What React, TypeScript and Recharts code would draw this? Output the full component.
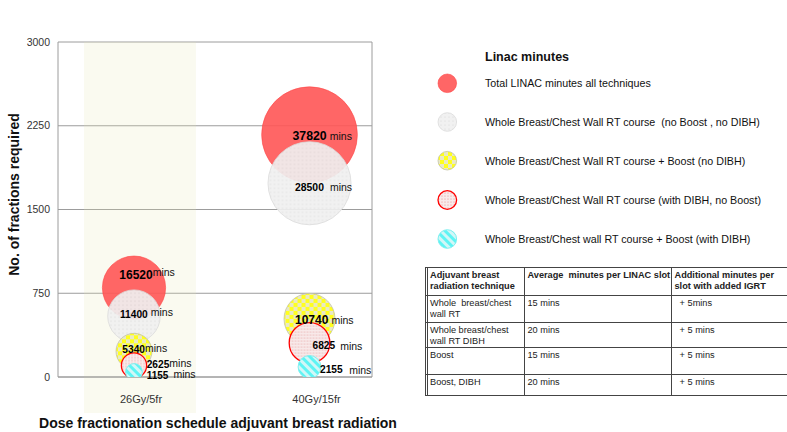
import React from 'react';
import {
  ScatterChart,
  Scatter,
  XAxis,
  YAxis,
  ZAxis,
  CartesianGrid,
  ReferenceArea,
  ReferenceLine,
  LabelList,
  Label,
} from 'recharts';

// ---------------- data ----------------
const categories = ['26Gy/5fr', '40Gy/15fr'];
const yTicks = [0, 750, 1500, 2250, 3000];

const totalFractions = [800, 2170];
const totalMinutes = [16520, 37820];
const wbFractions = [545, 1735];
const wbMinutes = [11400, 28500];
const wbBoostFractions = [230, 520];
const wbBoostMinutes = [5340, 10740];
const wbDibhFractions = [103, 305];
const wbDibhMinutes = [2625, 6825];
const wbBoostDibhFractions = [45, 90];
const wbBoostDibhMinutes = [1155, 2155];

const seriesNames = [
  'Total LINAC minutes all techniques',
  'Whole Breast/Chest Wall RT course  (no Boost , no DIBH)',
  'Whole Breast/Chest Wall RT course + Boost (no DIBH)',
  'Whole Breast/Chest Wall RT course (with DIBH, no Boost)',
  'Whole Breast/Chest wall RT course + Boost (with DIBH)',
];
const legendTitle = 'Linac minutes';
const xTitle = 'Dose fractionation schedule adjuvant breast radiation';
const yTitle = 'No. of fractions required';
const unitLabel = 'mins';

const tableHeader = [
  'Adjuvant breast\nradiation technique',
  'Average  minutes per LINAC slot',
  'Additional minutes per\nslot with added IGRT',
];
const tableTechniques = [
  'Whole  breast/chest\nwall RT',
  'Whole breast/chest\nwall RT DIBH',
  'Boost',
  'Boost, DIBH',
];
const tableAvgMinutes = ['15 mins', '20 mins', '15 mins', '20 mins'];
const tableAddMinutes = ['+ 5mins', '+ 5 mins', '+ 5 mins', '+ 5 mins'];

// ---------------- styles ----------------
const FONT = '"Liberation Sans", Arial, Helvetica, sans-serif';
const X_DOMAIN: [number, number] = [0.567, 2.356];
const BAND: [number, number] = [0.715, 1.353];

const seriesStyles = [
  { fill: '#ff5555', fillOpacity: 0.9, stroke: '#ff4444', strokeWidth: 0.6 },
  { fill: 'grey', fillOpacity: 0.92, stroke: '#dadada', strokeWidth: 0.8 },
  { fill: 'yellow', fillOpacity: 1, stroke: '#c4c4a4', strokeWidth: 0.8 },
  { fill: 'dibh', fillOpacity: 1, stroke: '#ff0000', strokeWidth: 1.3 },
  { fill: 'cyan', fillOpacity: 1, stroke: '#7ff0f0', strokeWidth: 1 },
];

// label placement relative to bubble centre (per series, per category)
const labelLayouts = [
  [
    { dx: -14.7, dy: -12.7, size: 12, gap: 0, raise: 3 },
    { dx: -17, dy: 1, size: 12.3, gap: 3, raise: 0 },
  ],
  [
    { dx: -14, dy: -2, size: 10.2, gap: 3, raise: 2 },
    { dx: -14.5, dy: 4, size: 10.4, gap: 6, raise: 0 },
  ],
  [
    { dx: -11.7, dy: -2, size: 10.2, gap: 0, raise: 1 },
    { dx: -14.5, dy: 1, size: 12, gap: 3, raise: 0 },
  ],
  [
    { dx: 12.7, dy: -1.2, size: 10.2, gap: 0, raise: 1 },
    { dx: 3, dy: 3, size: 10.2, gap: 5, raise: 0 },
  ],
  [
    { dx: 12.7, dy: 3.3, size: 10, gap: 5, raise: 1 },
    { dx: 10.5, dy: 3, size: 10.2, gap: 6.5, raise: 0 },
  ],
];

const seriesData = [
  [totalFractions, totalMinutes],
  [wbFractions, wbMinutes],
  [wbBoostFractions, wbBoostMinutes],
  [wbDibhFractions, wbDibhMinutes],
  [wbBoostDibhFractions, wbBoostDibhMinutes],
].map(([fr, mins]) =>
  categories.map((c, i) => ({ x: i + 1, y: fr[i], z: mins[i], category: c }))
);

function fillFor(key: string, prefix: string) {
  if (key.startsWith('#')) return key;
  return `url(#${prefix}${key})`;
}

function PatternDefs({ prefix }: { prefix: string }) {
  return (
    <defs>
      <pattern id={`${prefix}grey`} width={4} height={4} patternUnits="userSpaceOnUse">
        <rect width={4} height={4} fill="#f0f0f0" />
        <circle cx={1} cy={1} r={0.5} fill="#cfcfcf" />
      </pattern>
      <pattern id={`${prefix}yellow`} width={8} height={8} patternUnits="userSpaceOnUse">
        <rect width={8} height={8} fill="#e9e9c6" />
        <rect x={0} y={0} width={4} height={4} fill="#ffff1e" />
        <rect x={4} y={4} width={4} height={4} fill="#ffff1e" />
      </pattern>
      <pattern id={`${prefix}dibh`} width={3} height={3} patternUnits="userSpaceOnUse">
        <rect width={3} height={3} fill="#f8eaea" />
        <circle cx={1} cy={1} r={0.55} fill="#e38a8a" />
      </pattern>
      <pattern
        id={`${prefix}cyan`}
        width={6}
        height={6}
        patternUnits="userSpaceOnUse"
        patternTransform="rotate(-45)"
      >
        <rect width={6} height={6} fill="#d2f7f7" />
        <rect x={0} y={0} width={3} height={6} fill="#5ef4f4" />
      </pattern>
    </defs>
  );
}

function makeLabel(seriesIdx: number) {
  return (props: any) => {
    const vb = props.viewBox || props;
    const x = vb.x ?? props.x;
    const y = vb.y ?? props.y;
    const w = vb.width ?? props.width ?? 0;
    const h = vb.height ?? props.height ?? 0;
    const idx = props.index ?? 0;
    const lay = labelLayouts[seriesIdx][idx] || labelLayouts[seriesIdx][0];
    const cx = x + w / 2;
    const cy = y + h / 2;
    return (
      <text x={cx + lay.dx} y={cy + lay.dy} fill="#111" style={{ fontFamily: FONT }}>
        <tspan fontWeight="bold" fontSize={lay.size} fill="#000" dominantBaseline="central">
          {props.value}
        </tspan>
        <tspan dx={lay.gap} dy={-lay.raise} fontSize={10.5} dominantBaseline="central">
          {unitLabel}
        </tspan>
      </text>
    );
  };
}

const XTick = (props: any) => {
  const { x, y, payload } = props;
  const label = categories[Math.round(payload.value) - 1] ?? '';
  return (
    <text
      x={x + 7}
      y={y + 22}
      textAnchor="middle"
      dominantBaseline="central"
      fontSize={11}
      fill="#333"
      style={{ fontFamily: FONT }}
    >
      {label}
    </text>
  );
};

const YTitle = (props: any) => {
  const vb = props.viewBox || { x: 0, y: 42, width: 58, height: 335 };
  const cx = vb.x + 14;
  const cy = vb.y + vb.height / 2 - 15;
  return (
    <text
      x={cx}
      y={cy}
      transform={`rotate(-90 ${cx} ${cy})`}
      textAnchor="middle"
      dominantBaseline="central"
      fontSize={14}
      fontWeight="bold"
      fill="#111"
      style={{ fontFamily: FONT }}
    >
      {yTitle}
    </text>
  );
};

const XTitle = (props: any) => {
  const vb = props.viewBox || { x: 58, y: 377, width: 314, height: 30 };
  return (
    <text
      x={vb.x + vb.width / 2 + 3}
      y={vb.y + 46}
      textAnchor="middle"
      dominantBaseline="central"
      fontSize={14}
      fontWeight="bold"
      fill="#111"
      style={{ fontFamily: FONT }}
    >
      {xTitle}
    </text>
  );
};

function LegendOverlay() {
  const cx = 447.3;
  const ys = [83.3, 122, 160.7, 200, 239];
  return (
    <svg
      width={787}
      height={432}
      style={{ position: 'absolute', left: 0, top: 0, pointerEvents: 'none', fontFamily: FONT }}
    >
      <PatternDefs prefix="lg-" />
      <text x={485} y={57} dominantBaseline="central" fontSize={12.5} fontWeight="bold" fill="#111">
        {legendTitle}
      </text>
      {seriesNames.map((name, i) => {
        const st = seriesStyles[i];
        return (
          <g key={name}>
            <circle
              cx={cx}
              cy={ys[i]}
              r={9.3}
              fill={fillFor(st.fill, 'lg-')}
              fillOpacity={st.fillOpacity}
              stroke={st.stroke}
              strokeWidth={st.strokeWidth}
            />
            <text
              x={485}
              y={ys[i]}
              dominantBaseline="central"
              fontSize={10.7}
              fill="#111"
              style={{ whiteSpace: 'pre' }}
            >
              {name}
            </text>
          </g>
        );
      })}
    </svg>
  );
}

function CellText({ text, bold }: { text: string; bold?: boolean }) {
  const lines = text.split('\n');
  return (
    <>
      {lines.map((l, i) => (
        <div key={i} style={{ whiteSpace: 'pre', fontWeight: bold ? 'bold' : 'normal' }}>
          {l}
        </div>
      ))}
    </>
  );
}

function InfoTable() {
  const colX = [425, 524, 671, 800];
  const rowY = [267, 295, 322, 347, 374, 395];
  const rows = [
    tableHeader,
    ...tableTechniques.map((t, i) => [t, tableAvgMinutes[i], '  ' + tableAddMinutes[i]]),
  ];
  const line = '#444';
  return (
    <div style={{ position: 'absolute', left: 0, top: 0, width: 787, height: 432, overflow: 'hidden', fontFamily: FONT }}>
      {rowY.map((y) => (
        <div key={'h' + y} style={{ position: 'absolute', left: colX[0], top: y, width: colX[3] - colX[0], height: 1, background: line }} />
      ))}
      {colX.map((x) => (
        <div key={'v' + x} style={{ position: 'absolute', left: x, top: rowY[0], width: 1, height: rowY[5] - rowY[0], background: line }} />
      ))}
      <div style={{ position: 'absolute', left: colX[0] + 2, top: rowY[0], width: 1, height: rowY[5] - rowY[0], background: line }} />
      {rows.map((r, ri) =>
        r.map((cell, ci) => (
          <div
            key={ri + '-' + ci}
            style={{
              position: 'absolute',
              left: colX[ci] + (ci === 0 ? 5 : 3.5),
              top: rowY[ri] + 2.5,
              fontSize: 9.2,
              lineHeight: '11.5px',
              color: '#222',
            }}
          >
            <CellText text={cell} bold={ri === 0} />
          </div>
        ))
      )}
    </div>
  );
}

export default function App() {
  return (
    <div
      style={{
        position: 'absolute',
        left: 0,
        top: 0,
        width: 787,
        height: 432,
        background: '#fff',
        fontFamily: FONT,
        overflow: 'hidden',
      }}
    >
      <ScatterChart width={787} height={432} margin={{ top: 42, right: 415, bottom: 25, left: 0 }}>
        <PatternDefs prefix="ch-" />
        <ReferenceArea
          x1={BAND[0]}
          x2={BAND[1]}
          y1={-322}
          y2={3000}
          ifOverflow="visible"
          fill="#e6e6b4"
          fillOpacity={0.2}
          stroke="none"
        />
        <CartesianGrid vertical={false} stroke="#9c9c9c" strokeWidth={1} />
        <XAxis
          type="number"
          dataKey="x"
          domain={X_DOMAIN}
          ticks={[1, 2]}
          allowDataOverflow
          height={30}
          tickLine={false}
          tickSize={0}
          tickMargin={0}
          tick={<XTick />}
          axisLine={{ stroke: '#9c9c9c' }}
          label={<Label content={<XTitle />} />}
        />
        <YAxis
          type="number"
          dataKey="y"
          domain={[0, 3000]}
          ticks={yTicks}
          allowDataOverflow
          width={58}
          tickLine={false}
          tickSize={0}
          tickMargin={8}
          tick={{ fontSize: 10.5, fill: '#333', fontFamily: FONT }}
          axisLine={{ stroke: '#9c9c9c' }}
          label={<Label content={<YTitle />} />}
        />
        <ZAxis type="number" dataKey="z" domain={[0, 40000]} range={[0, 7605]} />
        <ReferenceLine x={X_DOMAIN[1]} stroke="#9c9c9c" ifOverflow="visible" />
        {seriesData.map((data, si) => {
          const st = seriesStyles[si];
          return (
            <Scatter
              key={seriesNames[si]}
              name={seriesNames[si]}
              data={data}
              shape="circle"
              fill={fillFor(st.fill, 'ch-')}
              fillOpacity={st.fillOpacity}
              stroke={st.stroke}
              strokeWidth={st.strokeWidth}
              isAnimationActive={false}
            >
              <LabelList dataKey="z" content={makeLabel(si)} />
            </Scatter>
          );
        })}
      </ScatterChart>
      <LegendOverlay />
      <InfoTable />
    </div>
  );
}
